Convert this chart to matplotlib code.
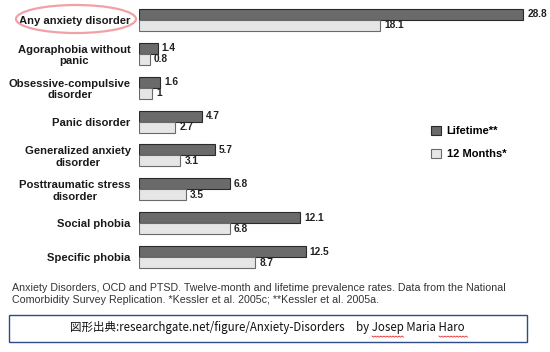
import matplotlib
matplotlib.use('Agg')
import matplotlib.pyplot as plt
import numpy as np
from matplotlib.patches import Ellipse, Rectangle
from matplotlib.lines import Line2D

# 疾患名と有病率 (%)
disorders = ['Any anxiety disorder', 'Agoraphobia without\npanic',
             'Obsessive-compulsive\ndisorder', 'Panic disorder',
             'Generalized anxiety\ndisorder', 'Posttraumatic stress\ndisorder',
             'Social phobia', 'Specific phobia']
lifetime = [28.8, 1.4, 1.6, 4.7, 5.7, 6.8, 12.1, 12.5]
twelve_months = [18.1, 0.8, 1, 2.7, 3.1, 3.5, 6.8, 8.7]
lifetime_labels = ['28.8', '1.4', '1.6', '4.7', '5.7', '6.8', '12.1', '12.5']
twelve_labels = ['18.1', '0.8', '1', '2.7', '3.1', '3.5', '6.8', '8.7']
series_names = ['Lifetime**', '12 Months*']

caption = ('Anxiety Disorders, OCD and PTSD. Twelve-month and lifetime prevalence rates. Data from the National\n'
           'Comorbidity Survey Replication. *Kessler et al. 2005c; **Kessler et al. 2005a.')
source = '図形出典:researchgate.net/figure/Anxiety-Disorders\u3000by Josep Maria Haro'

plt.rcParams['font.family'] = ['Liberation Sans', 'DejaVu Sans']

W, H = 550, 352
fig = plt.figure(figsize=(5.5, 3.52), dpi=100)
fig.patch.set_facecolor('white')

ax = fig.add_axes([139 / W, 1 - 274 / H, 400 / W, 271 / H])
y = np.arange(len(disorders))
bh = 0.325
dark = '#6a6a6a'
light = '#e6e6e6'

ax.barh(y - bh / 2, lifetime, height=bh, color=dark, edgecolor='#2a2a2a', linewidth=0.8, label=series_names[0])
ax.barh(y + bh / 2, twelve_months, height=bh, color=light, edgecolor='#6a6a6a', linewidth=0.8, label=series_names[1])

for i in range(len(disorders)):
    ax.annotate(lifetime_labels[i], (lifetime[i], y[i] - bh / 2), xytext=(3, 0), textcoords='offset points',
                va='center', ha='left', fontsize=7.3, fontweight='bold', color='#222222')
    ax.annotate(twelve_labels[i], (twelve_months[i], y[i] + bh / 2), xytext=(3, 0), textcoords='offset points',
                va='center', ha='left', fontsize=7.3, fontweight='bold', color='#222222')

ax.set_xlim(0, 30)
ax.set_ylim(len(disorders) - 0.5, -0.5)
ax.set_yticks(y)
ax.set_yticklabels(disorders, fontsize=8.1, fontweight='bold', color='#1a1a1a', linespacing=1.2,
                   multialignment='center')
ax.tick_params(axis='y', length=0, pad=6)
ax.set_xticks([])
for s in ax.spines.values():
    s.set_visible(False)

# 凡例
leg = fig.legend(loc='upper left', bbox_to_anchor=(421 / W, 1 - 116 / H), frameon=False,
                 prop={'size': 8, 'weight': 'bold'}, handlelength=0.9, handleheight=0.9,
                 handletextpad=0.5, labelspacing=1.1)

# 手書き風の丸
fig.patches.append(Ellipse((76 / W, 1 - 19 / H), 120 / W, 28 / H, transform=fig.transFigure,
                           fill=False, edgecolor='#f2a0a8', linewidth=1.6))

fig.text(12 / W, 1 - 283 / H, caption, ha='left', va='top', fontsize=7.65, color='#333333', linespacing=1.25)

fig.patches.append(Rectangle((9 / W, 1 - 342 / H), 518 / W, 27 / H, transform=fig.transFigure,
                             fill=False, edgecolor='#2f4a8a', linewidth=1.0))
fig.text(267 / W, 1 - 327 / H, source, ha='center', va='center', fontsize=8.3, color='#111111',
         family=['Noto Sans CJK JP', 'DejaVu Sans'])

# スペルチェックの波線
for x0, x1 in [(372, 403), (439, 468)]:
    xs = np.arange(x0, x1 + 1, 1.5)
    ys = 336 + np.where(np.arange(len(xs)) % 2 == 0, 0, 1.2)
    fig.lines.append(Line2D(xs / W, 1 - ys / H, transform=fig.transFigure, color='#e03030', linewidth=0.6))

fig.savefig('out.png', dpi=100)
